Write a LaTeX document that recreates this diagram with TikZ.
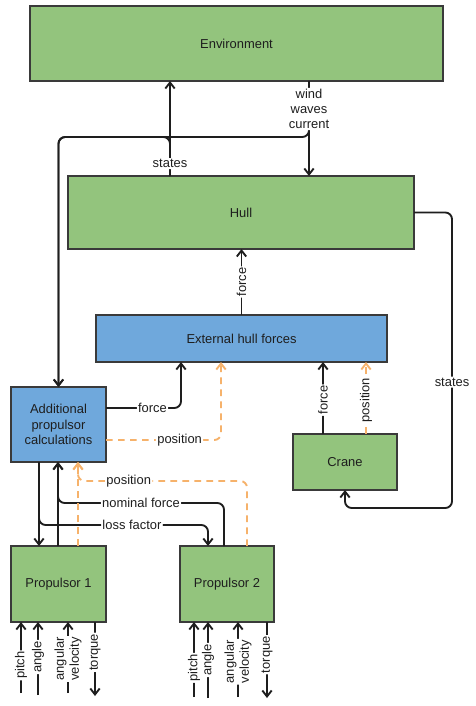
\documentclass[tikz,border=0pt]{standalone}
\usepackage{fontspec}
\setmainfont{Liberation Sans}
\usetikzlibrary{arrows.meta}
\definecolor{boxgreen}{HTML}{93C47D}
\definecolor{boxblue}{HTML}{6FA8DC}
\definecolor{dashorange}{HTML}{F6B26B}
\definecolor{edgegray}{HTML}{3A3A3A}
\definecolor{inkc}{HTML}{1E1E1E}
\def\pxu{0.75pt}
\begin{document}
\begin{tikzpicture}[x=0.75pt,y=-0.75pt,
  box/.style={draw=edgegray, line width=1.5pt, inner sep=0pt, outer sep=0pt, align=center, font=\fontsize{9.7}{11.6}\selectfont, text=inkc},
  gbox/.style={box, fill=boxgreen},
  bbox/.style={box, fill=boxblue},
  conn/.style={line width=1.4pt, draw=inkc, rounded corners=5pt, -{Straight Barb[length=4.5pt,width=7pt]}},
  dconn/.style={conn, draw=dashorange, dash pattern=on 5pt off 4pt},
  lab/.style={fill=white, inner sep=1pt, font=\fontsize{9.7}{11.3}\selectfont, text=inkc, align=center},
  vlab/.style={lab, rotate=90},
]
\useasboundingbox[fill=white] (0,0) rectangle (475,706);

% boxes
\node[gbox, minimum width=413*\pxu, minimum height=75*\pxu] (env) at (236.5,43.5) {Environment};
\node[gbox, minimum width=346*\pxu, minimum height=73*\pxu] (hull) at (241,212.5) {Hull};
\node[bbox, minimum width=291*\pxu, minimum height=47*\pxu] (ehf) at (241.5,338.5) {External hull forces};
\node[bbox, minimum width=95*\pxu, minimum height=75*\pxu] (addl) at (58.5,424.5) {Additional\\propulsor\\calculations};
\node[gbox, minimum width=104*\pxu, minimum height=56*\pxu] (crane) at (345,462) {Crane};
\node[gbox, minimum width=95*\pxu, minimum height=76*\pxu] (p1) at (58.5,584) {Propulsor 1};
\node[gbox, minimum width=94*\pxu, minimum height=76*\pxu] (p2) at (227,584) {Propulsor 2};

% helper columns / rows
\coordinate (cS) at (170,0);
\coordinate (cW) at (309,0);
\coordinate (rowB) at (0,137);
\coordinate (cR) at (452,0);
\coordinate (rowC) at (0,508);
\coordinate (rowF) at (0,408);
\coordinate (rowP) at (0,440);
\coordinate (cAF) at (181,0);
\coordinate (cAP) at (221,0);
\coordinate (cCF) at (323,0);
\coordinate (cCP) at (366,0);
\coordinate (cA1) at (39,0);
\coordinate (cA2) at (208,0);
\coordinate (rowLF) at (0,525);
\coordinate (cN) at (58,0);
\coordinate (cN2) at (224,0);
\coordinate (rowNF) at (0,503);
\coordinate (cPo) at (78,0);
\coordinate (cPo2) at (247,0);
\coordinate (rowPo) at (0,481);

% branches to additional propulsor calculations
\draw[conn] (hull.north -| cS) |- (rowB -| addl.north) -- (addl.north);
\draw[conn] (env.south -| cW) |- (rowB -| addl.north) -- (addl.north);

% hull <-> environment
\draw[conn] (hull.north -| cS) -- node[lab,pos=0.13]{states} (env.south -| cS);
\draw[conn] (env.south -| cW) -- node[lab,pos=0.295]{wind\\waves\\current} (hull.north -| cW);

% hull -> crane
\draw[conn] (hull.east) -| node[lab,pos=0.787]{states} (cR |- rowC) -| (crane.south);

% external hull forces -> hull
\draw[conn] (ehf.north) -- node[vlab]{force} (ehf.north |- hull.south);

% additional -> external hull forces
\draw[conn] (addl.east |- rowF) -| node[lab,pos=0.31]{force} (ehf.south -| cAF);
\draw[dconn] (addl.east |- rowP) -| node[lab,pos=0.32]{position} (ehf.south -| cAP);

% crane -> external hull forces
\draw[conn] (crane.north -| cCF) -- node[vlab,pos=0.47]{force} (ehf.south -| cCF);
\draw[dconn] (crane.north -| cCP) -- node[vlab,pos=0.47]{position} (ehf.south -| cCP);

% additional -> propulsors
\draw[conn] (addl.south -| cA1) -- (p1.north -| cA1);
\draw[conn] (addl.south -| cA1) |- node[lab,pos=0.775]{loss factor} (rowLF -| cA2) -- (p2.north -| cA2);

% propulsors -> additional
\draw[conn] (p1.north -| cN) -- (addl.south -| cN);
\draw[conn] (p2.north -| cN2) |- node[lab,pos=0.75]{nominal force} (rowNF -| cN) -- (addl.south -| cN);
\draw[dconn] (p1.north -| cPo) -- (addl.south -| cPo);
\draw[dconn] (p2.north -| cPo2) |- node[lab,pos=0.85]{position} (rowPo -| cPo) -- (addl.south -| cPo);

% propulsor 1 inputs / outputs
\coordinate (p1a) at (21,693);
\coordinate (p1b) at (38,695);
\coordinate (p1c) at (68,693);
\coordinate (p1d) at (95,696);
\draw[conn] (p1a) -- node[vlab,pos=0.39]{pitch} (p1.south -| p1a);
\draw[conn] (p1b) -- node[vlab,pos=0.52]{angle} (p1.south -| p1b);
\draw[conn] (p1c) -- node[vlab,pos=0.48]{angular\\velocity} (p1.south -| p1c);
\draw[conn] (p1.south -| p1d) -- node[vlab,pos=0.41]{torque} (p1d);

% propulsor 2 inputs / outputs
\coordinate (p2a) at (194,697);
\coordinate (p2b) at (208,698);
\coordinate (p2c) at (238,697);
\coordinate (p2d) at (267,698);
\draw[conn] (p2a) -- node[vlab,pos=0.39]{pitch} (p2.south -| p2a);
\draw[conn] (p2b) -- node[vlab,pos=0.5]{angle} (p2.south -| p2b);
\draw[conn] (p2c) -- node[vlab,pos=0.47]{angular\\velocity} (p2.south -| p2c);
\draw[conn] (p2.south -| p2d) -- node[vlab,pos=0.43]{torque} (p2d);
\end{tikzpicture}
\end{document}
